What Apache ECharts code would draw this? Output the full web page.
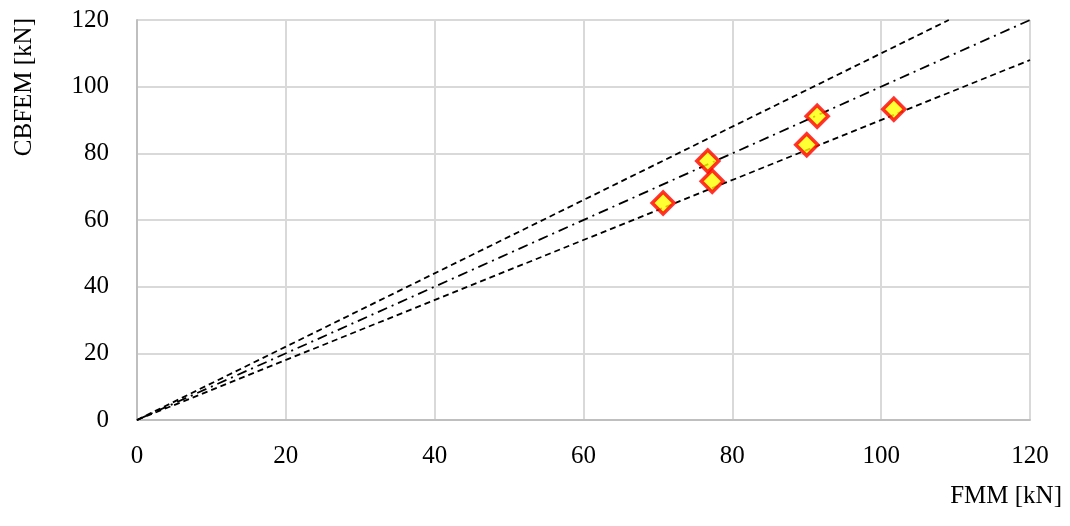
<!DOCTYPE html>
<html><head><meta charset="utf-8">
<script src="https://cdn.jsdelivr.net/npm/echarts@6/dist/echarts.min.js"></script>
<style>html,body{margin:0;padding:0;background:#fff}#c{width:1070px;height:526px}</style>
</head><body><div id="c"></div>
<script>
const points = [[70.7,65.1],[76.7,77.7],[77.3,71.6],[90.0,82.6],[91.4,91.1],[101.7,93.2]];
const lineEqual = [[0,0],[120,120]];
const linePlus10 = [[0,0],[109.09,120]];
const lineMinus10 = [[0,0],[120,108]];
const xTitle = 'FMM [kN]';
const yTitle = 'CBFEM [kN]';
const FONT = 'Liberation Serif';
const chart = echarts.init(document.getElementById('c'));
chart.setOption({
  animation:false,
  grid:{left:137,right:40,top:20,bottom:106},
  xAxis:{type:'value',min:0,max:120,interval:20,
    axisLine:{lineStyle:{color:'#bfbfbf',width:2}},axisTick:{show:false},
    splitLine:{lineStyle:{color:'#d9d9d9',width:2}},
    axisLabel:{fontFamily:FONT,fontSize:25,color:'#000',margin:24}},
  yAxis:{type:'value',min:0,max:120,interval:20,
    axisLine:{show:true,lineStyle:{color:'#bfbfbf',width:2}},axisTick:{show:false},
    splitLine:{lineStyle:{color:'#d9d9d9',width:2}},
    axisLabel:{fontFamily:FONT,fontSize:25,color:'#000',margin:28}},
  graphic:[
    {type:'text',right:8,top:484,style:{text:xTitle,font:'25px "Liberation Serif"',fill:'#000'}},
    {type:'text',left:12,top:18,rotation:Math.PI/2,style:{text:yTitle,font:'25px "Liberation Serif"',fill:'#000'}}
  ],
  series:[
    {type:'line',data:linePlus10,symbol:'none',lineStyle:{color:'#000',width:1.8,type:[6,4]},z:2},
    {type:'line',data:lineEqual,symbol:'none',lineStyle:{color:'#000',width:1.8,type:[10,5,2,5]},z:2},
    {type:'line',data:lineMinus10,symbol:'none',lineStyle:{color:'#000',width:1.8,type:[6,4]},z:2},
    {type:'scatter',data:points,symbol:'diamond',symbolSize:[22,22],
      itemStyle:{color:'#ffff00',borderColor:'#ff0000',borderWidth:3.5},z:5}
  ]
});
</script></body></html>
